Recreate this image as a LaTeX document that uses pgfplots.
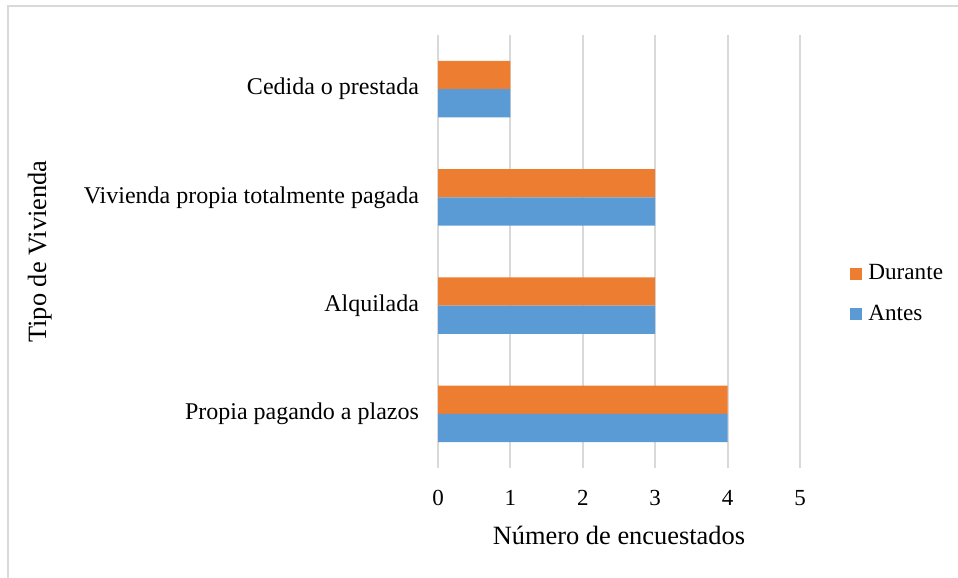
\documentclass[border=0pt]{standalone}
\usepackage{pgfplots}
\pgfplotsset{compat=1.18}
\usepackage{fontspec}
\setmainfont{Liberation Serif}
\definecolor{cOrange}{HTML}{ED7D31}
\definecolor{cBlue}{HTML}{5B9BD5}
\definecolor{cGrid}{HTML}{D9D9D9}
\begin{document}
\begin{tikzpicture}
\useasboundingbox (0,0) rectangle (479pt,289pt);
\draw[cGrid, line width=1pt] (4pt,0pt) -- (4pt,286pt) -- (479pt,286pt);
\begin{axis}[
  at={(219pt,55pt)}, anchor=south west,
  scale only axis, width=181pt, height=216.5pt,
  xbar, bar width=0.26,
  xmin=0, xmax=5, ymin=-0.5, ymax=3.5,
  xtick={0,1,2,3,4,5},
  ytick={0,1,2,3},
  yticklabels={Propia pagando a plazos, Alquilada, Vivienda propia totalmente pagada, Cedida o prestada},
  axis line style={draw=none},
  major tick length=0pt,
  xmajorgrids, grid style={cGrid, line width=1pt},
  /pgf/number format/assume math mode=true,
  xticklabel style={font=\fontsize{11.5}{13}\selectfont, yshift=-7.5pt},
  yticklabel style={font=\fontsize{12}{14}\selectfont, xshift=-6pt},
  xlabel={Número de encuestados},
  xlabel style={font=\fontsize{13.2}{15}\selectfont, at={(axis description cs:0.5,-0.1547)}, anchor=center},
  ylabel={Tipo de Vivienda},
  ylabel style={font=\fontsize{13.2}{15}\selectfont, at={(axis description cs:-1.1,0.5)}, anchor=center},
  legend style={at={(axis description cs:1.138,0.402)}, anchor=west, draw=none, fill=none,
    font=\fontsize{11.6}{13}\selectfont, row sep=8pt, inner sep=0pt,
    nodes={inner sep=1.5pt}},
  legend cell align=left,
  legend image code/.code={\path[#1,draw=none] (0pt,-3pt) rectangle (6pt,3pt);},
]
\addplot[fill=cOrange, draw=none, bar shift=0.13] coordinates {(4,0) (3,1) (3,2) (1,3)};
\addlegendentry{\hspace{1.5pt}Durante}
\addplot[fill=cBlue, draw=none, bar shift=-0.13] coordinates {(4,0) (3,1) (3,2) (1,3)};
\addlegendentry{\hspace{1.5pt}Antes}
\end{axis}
\end{tikzpicture}
\end{document}
